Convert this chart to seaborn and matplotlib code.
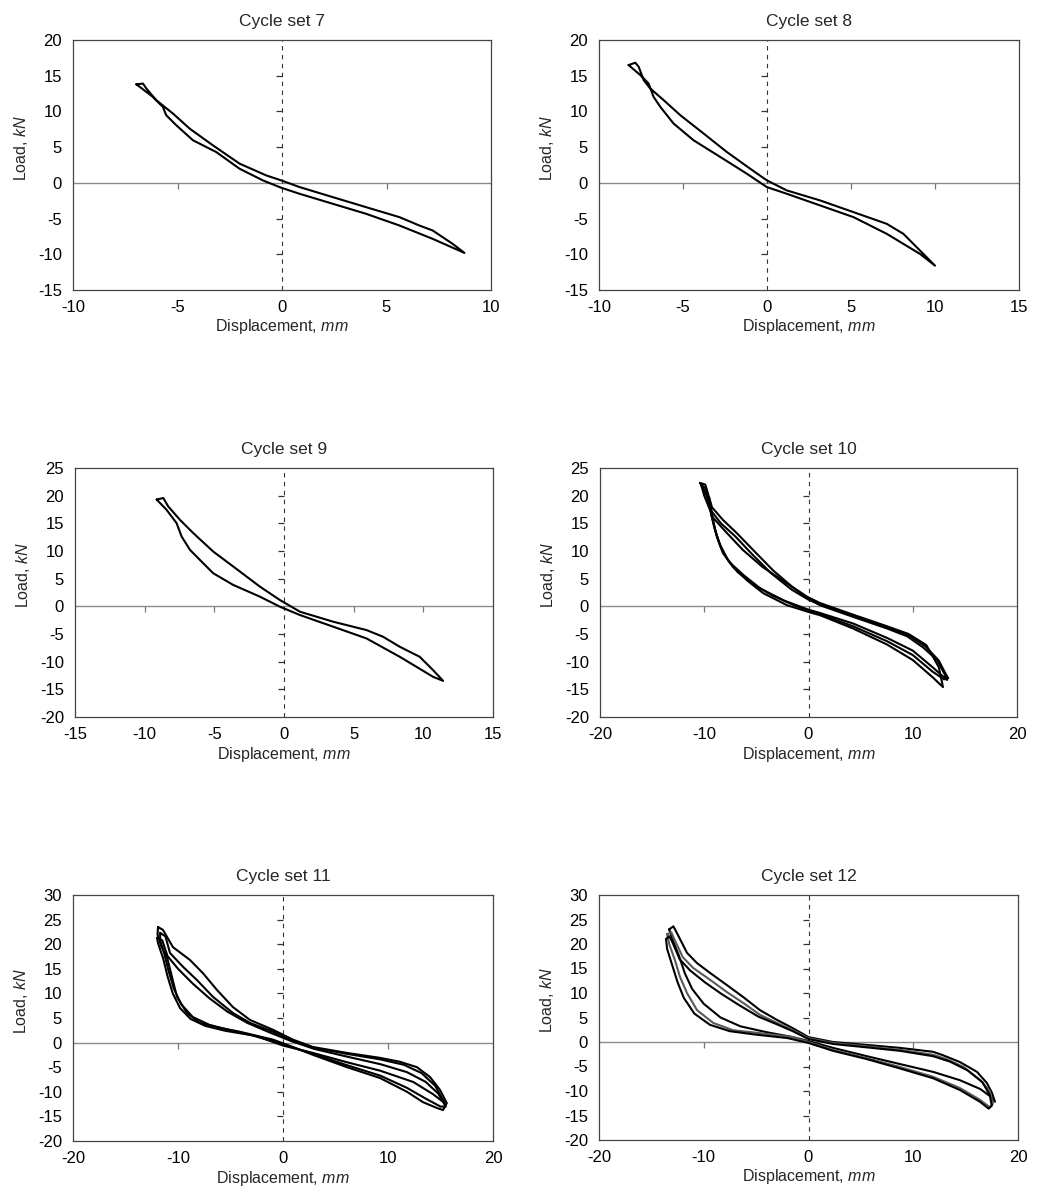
import numpy as np
import pandas as pd
import matplotlib
matplotlib.use("Agg")
import matplotlib.pyplot as plt
import seaborn as sns

# ---------------- data ----------------
titles = ["Cycle set 7", "Cycle set 8", "Cycle set 9",
          "Cycle set 10", "Cycle set 11", "Cycle set 12"]
x_limits = [(-10, 10), (-10, 15), (-15, 15), (-20, 20), (-20, 20), (-20, 20)]
x_steps = [5, 5, 5, 10, 10, 10]
y_limits = [(-15, 20), (-15, 20), (-20, 25), (-20, 25), (-20, 30), (-20, 30)]
y_steps = [5, 5, 5, 5, 5, 5]

# Cycle set 7
s7_up_x = [-6.97, -6.65, -6.49, -6.02, -5.22, -4.42, -3.31, -2.03, -0.76, -0.04, 0.84, 2.43, 4.02, 5.62, 6.57, 7.21, 8.17, 8.73]
s7_up_y = [13.8, 13.9, 13.21, 11.58, 9.71, 7.60, 5.26, 2.69, 1.05, 0.35, -0.59, -2.0, -3.40, -4.80, -5.97, -6.67, -8.55, -9.81]
s7_lo_x = [-6.97, -6.18, -5.70, -5.54, -5.06, -4.26, -3.15, -2.03, -0.92, -0.04, 0.84, 2.43, 4.02, 5.62, 7.21, 8.73]
s7_lo_y = [13.8, 12.04, 10.64, 9.47, 8.07, 5.96, 4.32, 1.98, 0.35, -0.68, -1.53, -2.93, -4.33, -5.97, -7.84, -9.81]

# Cycle set 8
s8_up_x = [-8.24, -7.84, -7.64, -7.34, -6.95, -6.15, -5.16, -3.77, -2.39, -1.0, -0.01, 1.18, 3.16, 5.15, 7.13, 8.12, 9.11, 10.0]
s8_up_y = [16.49, 16.82, 16.26, 14.38, 13.21, 11.58, 9.47, 6.90, 4.32, 1.98, 0.35, -1.06, -2.46, -4.10, -5.74, -7.14, -9.48, -11.59]
s8_lo_x = [-8.24, -7.54, -7.05, -6.75, -6.35, -5.56, -4.37, -2.78, -1.20, -0.01, 1.18, 3.16, 5.15, 7.13, 9.11, 10.0]
s8_lo_y = [16.49, 15.09, 13.92, 12.04, 10.64, 8.30, 5.96, 3.62, 1.28, -0.59, -1.53, -3.16, -4.80, -7.14, -9.95, -11.59]

# Cycle set 9
s9_up_x = [-9.14, -8.66, -8.31, -7.47, -6.51, -5.08, -3.64, -1.73, -0.30, 1.14, 3.53, 5.92, 7.11, 8.31, 9.74, 10.70, 11.42]
s9_up_y = [19.3, 19.57, 18.06, 15.64, 13.23, 9.90, 7.19, 3.56, 1.15, -0.97, -2.78, -4.29, -5.50, -7.31, -9.12, -11.53, -13.47]
s9_lo_x = [-9.14, -8.43, -7.71, -7.35, -6.75, -5.80, -5.08, -3.64, -1.73, -0.30, 1.14, 3.53, 5.92, 8.31, 10.70, 11.42]
s9_lo_y = [19.3, 17.45, 15.04, 12.62, 10.21, 7.79, 5.98, 3.86, 1.75, -0.06, -1.57, -3.68, -5.80, -9.12, -12.74, -13.47]

# Cycle set 10 (three loops)
s10_a_up_x = [-10.4, -9.9, -9.26, -8.2, -6.86, -5.32, -3.4, -1.49, 0.0, 1.1, 4.27, 7.53, 9.45, 10.98, 12.33, 13.1, 13.3]
s10_a_up_y = [22.3, 22.0, 17.9, 15.6, 13.2, 10.2, 6.5, 3.4, 1.4, 0.2, -1.9, -4.0, -5.4, -7.4, -9.7, -12.4, -13.3]
s10_a_lo_x = [-10.4, -10.2, -9.6, -9.3, -8.9, -8.4, -7.6, -6.2, -4.6, -2.3, 0.0, 1.1, 4.27, 7.53, 10.0, 11.9, 13.1, 13.3]
s10_a_lo_y = [22.3, 21.6, 19.6, 16.4, 13.4, 10.6, 8.0, 5.6, 3.2, 1.0, -0.6, -1.2, -3.1, -5.7, -8.0, -11.0, -13.0, -13.3]
s10_b_up_x = [-10.0, -9.5, -9.2, -7.8, -6.3, -4.4, -2.1, -0.1, 1.1, 4.27, 7.53, 9.6, 11.3, 12.5, 12.9]
s10_b_up_y = [21.0, 19.5, 16.1, 13.2, 10.2, 7.1, 4.2, 1.7, 0.6, -1.5, -3.6, -5.0, -7.0, -11.0, -14.6]
s10_b_lo_x = [-10.0, -9.6, -9.16, -8.78, -8.2, -7.24, -5.9, -4.36, -2.06, 0.14, 1.1, 4.27, 7.53, 10.0, 11.9, 12.9]
s10_b_lo_y = [21.0, 19.0, 15.6, 12.5, 9.6, 7.1, 4.7, 2.4, 0.2, -1.1, -1.6, -4.0, -6.9, -9.7, -12.8, -14.6]
s10_c_up_x = [-10.3, -9.8, -9.35, -8.4, -7.0, -5.5, -3.6, -1.6, 0.0, 1.1, 4.27, 7.53, 9.6, 11.2, 12.5, 13.1, 13.4]
s10_c_up_y = [22.0, 21.2, 17.3, 15.0, 12.6, 9.6, 6.0, 3.0, 1.2, 0.3, -1.7, -3.8, -5.2, -7.2, -9.8, -12.0, -13.0]
s10_c_lo_x = [-10.3, -10.0, -9.4, -9.0, -8.5, -7.8, -6.8, -5.3, -3.5, -1.5, 0.0, 1.1, 4.27, 7.53, 10.0, 11.9, 13.0, 13.4]
s10_c_lo_y = [22.0, 20.0, 17.2, 14.0, 11.2, 8.6, 6.2, 4.0, 2.0, 0.3, -0.8, -1.4, -3.6, -6.3, -8.8, -11.8, -13.2, -13.0]

# Cycle set 11 (three loops)
s11_a_up_x = [-11.9, -11.43, -10.48, -8.86, -7.62, -6.29, -4.76, -3.14, -0.95, 0.95, 2.86, 6.1, 9.24, 11.14, 12.76, 14.0, 14.95, 15.6]
s11_a_up_y = [23.5, 22.9, 19.4, 16.8, 14.1, 10.7, 7.2, 4.6, 2.6, 0.6, -0.9, -2.1, -3.1, -3.9, -5.0, -7.0, -9.6, -12.3]
s11_a_lo_x = [-11.9, -11.95, -11.6, -11.05, -10.57, -10.1, -9.14, -7.9, -6.0, -4.1, -0.95, 0.95, 2.86, 6.1, 9.24, 11.81, 13.33, 14.67, 15.24, 15.6]
s11_a_lo_y = [23.5, 22.0, 19.6, 17.4, 13.3, 9.3, 6.0, 4.0, 3.0, 2.2, 0.6, -0.9, -2.5, -5.0, -7.2, -10.0, -12.1, -13.3, -13.7, -12.3]
s11_b_up_x = [-11.7, -11.2, -10.76, -9.52, -8.19, -6.67, -4.76, -3.14, -0.95, 0.95, 2.86, 6.1, 9.24, 11.5, 13.2, 14.5, 15.4]
s11_b_up_y = [22.3, 21.6, 18.2, 15.4, 12.7, 9.3, 6.0, 4.0, 2.2, 0.4, -1.0, -2.3, -3.4, -4.5, -6.2, -8.8, -12.3]
s11_b_lo_x = [-11.7, -11.7, -11.3, -10.9, -10.4, -9.7, -8.6, -7.0, -5.0, -2.5, 0.0, 2.86, 6.1, 9.24, 12.4, 14.3, 15.4]
s11_b_lo_y = [22.3, 20.8, 18.0, 14.6, 11.0, 7.8, 5.2, 3.6, 2.5, 1.3, -0.6, -2.1, -4.0, -5.7, -8.0, -10.5, -12.3]
s11_c_up_x = [-12.0, -11.5, -11.0, -10.0, -8.6, -7.0, -5.3, -3.4, -1.2, 0.8, 3.0, 6.2, 9.3, 11.8, 13.6, 14.8, 15.5]
s11_c_up_y = [21.3, 20.8, 17.6, 15.0, 12.0, 9.0, 6.3, 4.0, 2.0, 0.3, -1.3, -2.9, -4.4, -6.0, -8.0, -10.4, -13.0]
s11_c_lo_x = [-12.0, -11.9, -11.4, -11.0, -10.5, -9.8, -8.8, -7.4, -5.5, -3.0, -0.5, 2.86, 6.1, 9.24, 11.81, 13.6, 15.0, 15.5]
s11_c_lo_y = [21.3, 20.2, 17.0, 13.5, 10.0, 7.0, 4.8, 3.4, 2.4, 1.5, 0.0, -2.3, -4.6, -6.7, -9.2, -11.4, -13.0, -13.0]

# Cycle set 12 (three loops)
s12_a_up_x = [-13.3, -12.9, -12.55, -11.6, -10.64, -9.4, -7.78, -6.25, -4.63, -3.0, -1.48, 0.0, 2.34, 5.58, 8.73, 11.9, 12.84, 14.46, 16.09, 17.04, 17.52, 17.8]
s12_a_up_y = [23.0, 23.6, 22.2, 18.2, 16.1, 14.1, 11.6, 9.2, 6.5, 4.5, 2.8, 1.0, 0.0, -0.6, -1.2, -2.0, -2.7, -4.1, -6.1, -8.4, -10.4, -12.2]
s12_a_lo_x = [-13.3, -13.0, -12.4, -11.8, -11.1, -10.0, -8.4, -6.5, -4.0, -1.5, 0.0, 2.34, 5.58, 8.73, 11.9, 14.46, 16.4, 17.3, 17.8]
s12_a_lo_y = [23.0, 21.0, 17.8, 14.0, 10.8, 7.8, 5.0, 3.2, 2.0, 1.0, 0.2, -1.2, -2.9, -4.5, -6.1, -7.8, -9.6, -11.0, -12.2]
s12_b_up_x = [-13.5, -13.1, -12.9, -12.0, -11.0, -9.4, -7.8, -6.25, -4.6, -3.0, -1.5, 0.0, 2.34, 5.58, 8.73, 11.9, 13.2, 14.8, 16.4, 17.3, 17.6]
s12_b_up_y = [22.0, 22.4, 21.4, 17.3, 15.1, 12.7, 10.2, 8.0, 5.5, 3.9, 2.4, 0.8, -0.2, -0.9, -1.6, -2.6, -3.5, -5.1, -7.8, -10.0, -12.6]
s12_b_lo_x = [-13.5, -13.3, -12.75, -12.27, -11.6, -10.64, -9.1, -7.2, -4.6, -1.48, 0.0, 2.34, 5.58, 8.73, 11.9, 14.46, 16.37, 17.3, 17.6]
s12_b_lo_y = [22.0, 20.0, 16.7, 13.3, 10.0, 6.5, 3.9, 2.4, 1.8, 1.0, 0.0, -1.6, -3.3, -5.1, -7.1, -9.4, -11.8, -13.3, -12.6]
s12_c_up_x = [-13.6, -13.3, -13.0, -12.3, -11.3, -9.9, -8.3, -6.6, -4.8, -3.0, -1.5, 0.0, 2.34, 5.58, 8.73, 11.9, 13.5, 15.2, 16.6, 17.3, 17.5]
s12_c_up_y = [21.0, 21.6, 20.4, 16.9, 14.6, 12.2, 9.8, 7.5, 5.2, 3.6, 2.2, 0.6, -0.4, -1.1, -1.8, -2.9, -4.0, -5.8, -8.2, -10.8, -13.0]
s12_c_lo_x = [-13.6, -13.5, -13.0, -12.5, -11.9, -10.9, -9.4, -7.5, -5.0, -2.0, 0.0, 2.34, 5.58, 8.73, 11.9, 14.46, 16.37, 17.2, 17.5]
s12_c_lo_y = [21.0, 19.0, 15.6, 12.2, 9.0, 5.8, 3.5, 2.2, 1.5, 0.8, -0.2, -1.8, -3.5, -5.4, -7.4, -9.8, -12.2, -13.6, -13.0]

loops = [
    [(s7_up_x, s7_up_y, s7_lo_x, s7_lo_y, "black")],
    [(s8_up_x, s8_up_y, s8_lo_x, s8_lo_y, "black")],
    [(s9_up_x, s9_up_y, s9_lo_x, s9_lo_y, "black")],
    [(s10_a_up_x, s10_a_up_y, s10_a_lo_x, s10_a_lo_y, "black"),
     (s10_b_up_x, s10_b_up_y, s10_b_lo_x, s10_b_lo_y, "black"),
     (s10_c_up_x, s10_c_up_y, s10_c_lo_x, s10_c_lo_y, "black")],
    [(s11_a_up_x, s11_a_up_y, s11_a_lo_x, s11_a_lo_y, "black"),
     (s11_b_up_x, s11_b_up_y, s11_b_lo_x, s11_b_lo_y, "black"),
     (s11_c_up_x, s11_c_up_y, s11_c_lo_x, s11_c_lo_y, "black")],
    [(s12_a_up_x, s12_a_up_y, s12_a_lo_x, s12_a_lo_y, "black"),
     (s12_b_up_x, s12_b_up_y, s12_b_lo_x, s12_b_lo_y, "#5a5a5a"),
     (s12_c_up_x, s12_c_up_y, s12_c_lo_x, s12_c_lo_y, "black")],
]

# ---------------- style ----------------
sns.set_theme(style="white")
plt.rcParams["font.family"] = ["Liberation Sans", "DejaVu Sans"]
plt.rcParams["mathtext.fontset"] = "custom"
plt.rcParams["mathtext.rm"] = "Liberation Sans"
plt.rcParams["mathtext.it"] = "Liberation Sans:italic"

W, H = 1040, 1202
fig = plt.figure(figsize=(W / 100, H / 100), dpi=100)

# axes pixel boxes (left, top, right, bottom)
boxes = [(73, 40, 491, 290), (599, 40, 1019, 290),
         (75, 468, 493, 717), (600, 468, 1017, 717),
         (73, 895, 493, 1141), (599, 895, 1018, 1140)]

for i in range(6):
    l, t, r, b = boxes[i]
    ax = fig.add_axes([l / W, 1 - b / H, (r - l) / W, (b - t) / H])
    x0, x1 = x_limits[i]
    y0, y1 = y_limits[i]

    # zero lines (Excel-style crossing axes)
    ax.axhline(0, color="#8a8a8a", lw=1.0, zorder=1)
    ax.axvline(0, color="#333333", lw=0.8, ls=(0, (4, 4)), zorder=1)
    xt = np.arange(x0, x1 + 0.01, x_steps[i])
    yt = np.arange(y0, y1 + 0.01, y_steps[i])
    xm = [v for v in xt if v not in (x0, x1, 0)]
    ym = [v for v in yt if v not in (y0, y1, 0)]
    ax.plot(xm, np.zeros(len(xm)), ls="", marker=3, ms=4, mew=0.9,
            color="#777777", zorder=1)
    ax.plot(np.zeros(len(ym)), ym, ls="", marker=0, ms=4, mew=0.9,
            color="#333333", zorder=1)

    for (ux, uy, lx, ly, col) in loops[i]:
        px = list(ux) + list(lx[::-1])
        py = list(uy) + list(ly[::-1])
        df = pd.DataFrame({"x": px, "y": py})
        sns.lineplot(data=df, x="x", y="y", sort=False, estimator=None,
                     color=col, lw=1.5, ax=ax, zorder=3,
                     solid_joinstyle="round", solid_capstyle="round")

    ax.set_xlim(x0, x1)
    ax.set_ylim(y0, y1)
    ax.set_xticks(xt)
    ax.set_yticks(yt)
    ax.set_xticklabels([f"{int(v)}" for v in xt])
    ax.set_yticklabels([f"{int(v)}" for v in yt])
    ax.tick_params(axis="both", length=0, labelsize=12, colors="black")
    ax.tick_params(axis="x", pad=7)
    ax.tick_params(axis="y", pad=8)
    for s in ax.spines.values():
        s.set_color("#444444")
        s.set_linewidth(0.9)
    ax.set_title(titles[i], fontsize=12.5, pad=10)
    ax.set_xlabel("Displacement, $\\it{mm}$", fontsize=11.5, labelpad=2)
    ax.set_ylabel("Load, $\\it{kN}$", fontsize=11.5, labelpad=4)
    ax.yaxis.set_label_coords(-0.103, 0.57)
    ax.set_facecolor("white")

fig.savefig("out.png", dpi=100, facecolor="white")
